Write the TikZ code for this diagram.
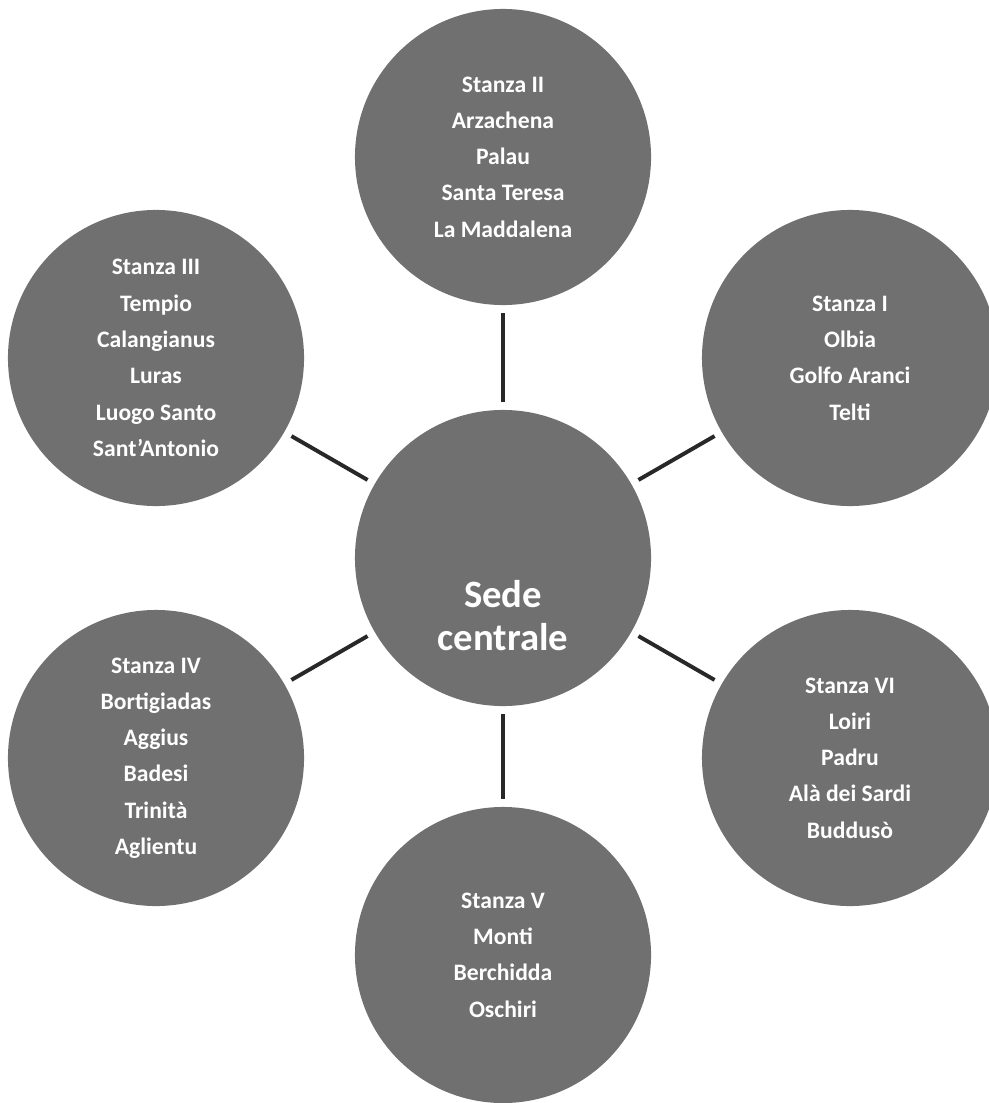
\documentclass[tikz,border=0pt]{standalone}
\usepackage{fontspec}
\setmainfont{Carlito}
\usetikzlibrary{positioning}
\definecolor{discgray}{RGB}{112,112,112}
\definecolor{spokegray}{RGB}{40,40,40}

\begin{document}
\begin{tikzpicture}[x=0.025cm, y=-0.025cm,
    room/.style={circle, fill=discgray, minimum size=7.4cm, inner sep=0pt, text=white, align=center, font=\fontsize{16.8}{25.8}\selectfont\bfseries},
    hubtext/.style={text=white, align=center, font=\fontsize{27.5}{30.5}\selectfont\bfseries},
    link/.style={line width=2.8pt, spokegray, shorten >=0.2cm, shorten <=0.2cm}]

    \useasboundingbox (0,0) rectangle (988,1103);

    % Centre
    \node[room] (hub) at (503,558) {};
    \node[hubtext] (hubtxt) at (503,616) {Sede\\centrale};

    % Stanze
    \node[room] (st2) at (503,157) {Stanza II\\Arzachena\\Palau\\Santa Teresa\\La Maddalena};
    \node[room] (st1) at (850,358) {Stanza I\\Olbia\\Golfo Aranci\\Telti};
    \node[room] (st6) at (850,758) {Stanza VI\\Loiri\\Padru\\Alà dei Sardi\\Buddusò};
    \node[room] (st5) at (503,955) {Stanza V\\Monti\\Berchidda\\Oschiri};
    \node[room] (st4) at (156,758) {Stanza IV\\Bortigiadas\\Aggius\\Badesi\\Trinità\\Aglientu};
    \node[room] (st3) at (156,358) {Stanza III\\Tempio\\Calangianus\\Luras\\Luogo Santo\\Sant’Antonio};

    % Spokes
    \foreach \s in {st1,st2,st3,st4,st5,st6}
        \draw[link] (hub) -- (\s);

\end{tikzpicture}
\end{document}
